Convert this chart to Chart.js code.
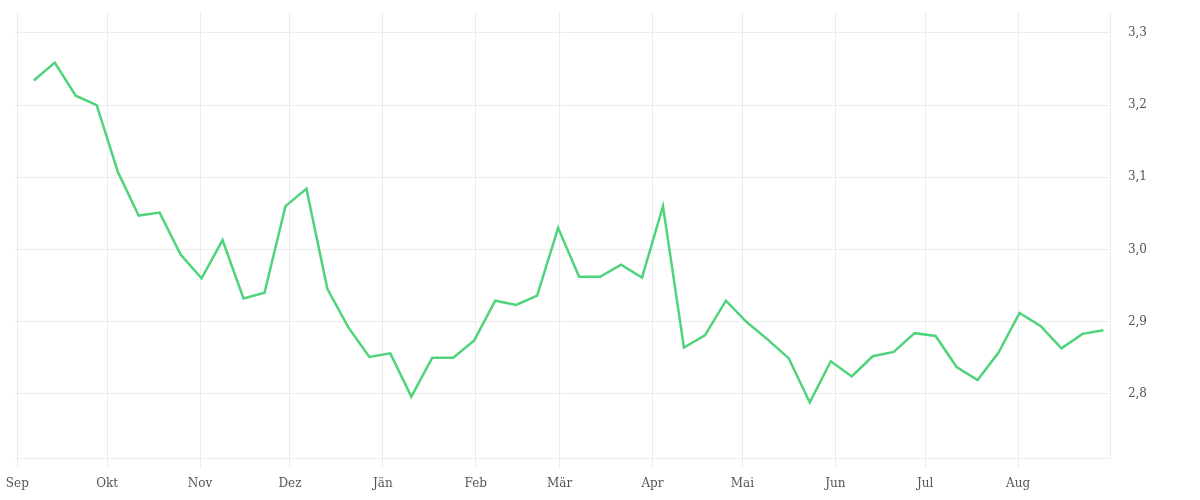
<!DOCTYPE html>
<html>

<head>
    <meta charset="UTF-8">
    <title>Wochenwerte</title>
    <script src="https://cdn.jsdelivr.net/npm/chart.js"></script>
    <style>
        body {
            margin: 0;
            background: #fff;
        }

        #wrap {
            width: 1200px;
            height: 500px;
        }
    </style>
</head>

<body>
    <div id="wrap">
        <canvas id="myChart" width="1200" height="500"></canvas>
    </div>

    <script>
        // season start (x = 0 days)
        const seasonStart = '2022-09-01';

        // weekly sample dates
        const weekDates = [
            '2022-09-06', '2022-09-13', '2022-09-20', '2022-09-27', '2022-10-04', '2022-10-11', '2022-10-18',
            '2022-10-25', '2022-11-01', '2022-11-08', '2022-11-15', '2022-11-22', '2022-11-29', '2022-12-06',
            '2022-12-13', '2022-12-20', '2022-12-27', '2023-01-03', '2023-01-10', '2023-01-17', '2023-01-24',
            '2023-01-31', '2023-02-07', '2023-02-14', '2023-02-21', '2023-02-28', '2023-03-07', '2023-03-14',
            '2023-03-21', '2023-03-28', '2023-04-04', '2023-04-11', '2023-04-18', '2023-04-25', '2023-05-02',
            '2023-05-09', '2023-05-16', '2023-05-23', '2023-05-30', '2023-06-06', '2023-06-13', '2023-06-20',
            '2023-06-27', '2023-07-04', '2023-07-11', '2023-07-18', '2023-07-25', '2023-08-01', '2023-08-08',
            '2023-08-15', '2023-08-22', '2023-08-29'
        ];

        const weekValues = [
            3.234, 3.259, 3.213, 3.200, 3.108, 3.047, 3.051,
            2.993, 2.960, 3.013, 2.932, 2.940, 3.060, 3.084,
            2.945, 2.892, 2.851, 2.856, 2.796, 2.850, 2.850,
            2.874, 2.929, 2.923, 2.936, 3.030, 2.962, 2.962,
            2.979, 2.961, 3.060, 2.864, 2.881, 2.929, 2.899,
            2.875, 2.849, 2.788, 2.845, 2.824, 2.852, 2.858,
            2.884, 2.880, 2.837, 2.819, 2.857, 2.912, 2.894,
            2.863, 2.883, 2.888
        ];

        // first day of each month and its label
        const monthStarts = [
            '2022-09-01', '2022-10-01', '2022-11-01', '2022-12-01', '2023-01-01', '2023-02-01',
            '2023-03-01', '2023-04-01', '2023-05-01', '2023-06-01', '2023-07-01', '2023-08-01'
        ];
        const monthLabels = ['Sep', 'Okt', 'Nov', 'Dez', 'Jän', 'Feb', 'Mär', 'Apr', 'Mai', 'Jun', 'Jul', 'Aug'];

        const yTicks = [2.8, 2.9, 3.0, 3.1, 3.2, 3.3];

        function dayOf(iso) {
            const [y, m, d] = iso.split('-').map(Number);
            const [y0, m0, d0] = seasonStart.split('-').map(Number);
            return (Date.UTC(y, m - 1, d) - Date.UTC(y0, m0 - 1, d0)) / 86400000;
        }

        // points sit at midday
        const points = weekDates.map((d, i) => ({ x: dayOf(d) + 0.5, y: weekValues[i] }));
        const monthDays = monthStarts.map(dayOf);

        const gridColor = '#ececec';
        Chart.defaults.font.family = "'DejaVu Serif', serif";
        Chart.defaults.font.size = 12;
        Chart.defaults.color = '#555';

        // let the layout padding alone decide the plot edges
        function noEdgePadding(axis) {
            axis.paddingLeft = 0;
            axis.paddingRight = 0;
            axis.paddingTop = 0;
            axis.paddingBottom = 0;
        }

        const ctx = document.getElementById('myChart').getContext('2d');
        const myChart = new Chart(ctx, {
            type: 'line',
            data: {
                datasets: [{
                    data: points,
                    borderColor: '#4fd47c',
                    borderWidth: 2.5,
                    pointRadius: 0,
                    fill: false,
                    tension: 0
                }]
            },
            options: {
                responsive: false,
                animation: false,
                layout: {
                    padding: { left: 15, top: 12, right: 36, bottom: 0 }
                },
                plugins: {
                    legend: { display: false },
                    tooltip: { enabled: false }
                },
                scales: {
                    x: {
                        type: 'linear',
                        min: -0.77,
                        max: 365,
                        afterBuildTicks: (axis) => {
                            axis.ticks = monthDays.map(v => ({ value: v }));
                        },
                        afterFit: (axis) => {
                            noEdgePadding(axis);
                            axis.height = 42;
                        },
                        ticks: {
                            autoSkip: false,
                            maxRotation: 0,
                            padding: 9,
                            callback: (value) => monthLabels[monthDays.indexOf(value)]
                        },
                        grid: {
                            color: gridColor,
                            tickLength: 10
                        },
                        border: { color: gridColor }
                    },
                    y: {
                        position: 'right',
                        min: 2.711,
                        max: 3.329,
                        afterBuildTicks: (axis) => {
                            axis.ticks = yTicks.map(v => ({ value: v }));
                        },
                        afterFit: noEdgePadding,
                        ticks: {
                            padding: 17,
                            callback: (value) => value.toFixed(1).replace('.', ',')
                        },
                        grid: {
                            color: gridColor,
                            drawTicks: false
                        },
                        border: { color: gridColor }
                    }
                }
            }
        });
    </script>
</body>

</html>
